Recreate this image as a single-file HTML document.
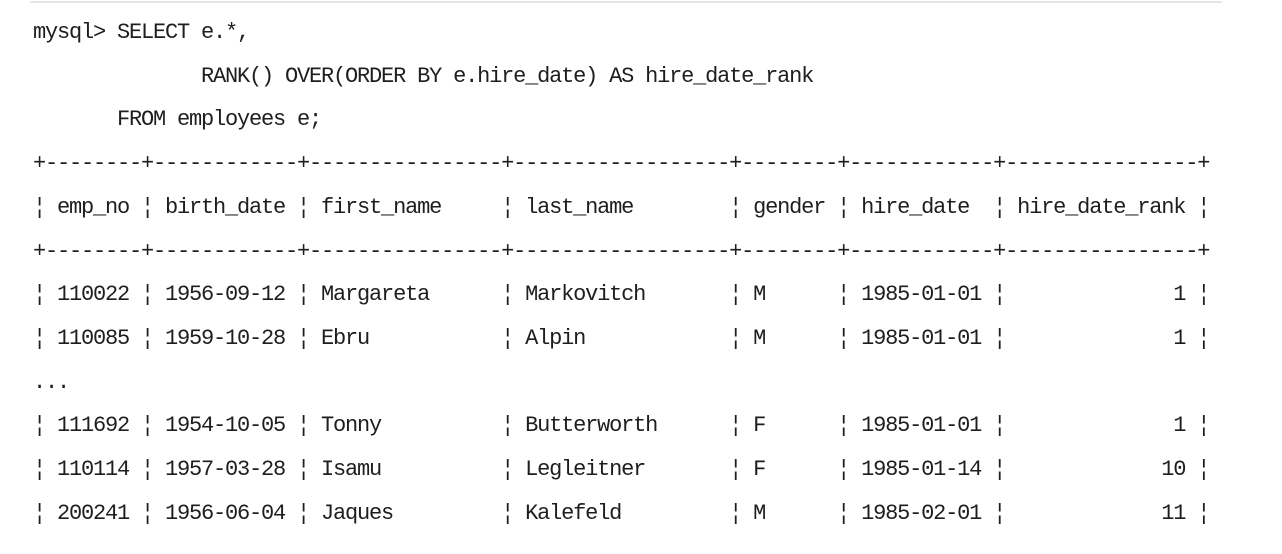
<!DOCTYPE html>
<html><head><meta charset="utf-8"><style>
html,body{margin:0;padding:0;background:#fff;width:1282px;height:554px;overflow:hidden;position:relative}
.top{position:absolute;left:30px;top:1px;width:1192px;height:2px;background:#e6e6e6}
pre{position:absolute;left:33px;top:11px;margin:0;font-family:"Liberation Mono",monospace;font-size:22px;letter-spacing:-1.2px;line-height:43.7px;color:#1e1e1e;white-space:pre}
</style></head><body>
<div class="top"></div>
<pre>mysql&gt; SELECT e.*,
              RANK() OVER(ORDER BY e.hire_date) AS hire_date_rank
       FROM employees e;
+--------+------------+----------------+------------------+--------+------------+----------------+
¦ emp_no ¦ birth_date ¦ first_name     ¦ last_name        ¦ gender ¦ hire_date  ¦ hire_date_rank ¦
+--------+------------+----------------+------------------+--------+------------+----------------+
¦ 110022 ¦ 1956-09-12 ¦ Margareta      ¦ Markovitch       ¦ M      ¦ 1985-01-01 ¦              1 ¦
¦ 110085 ¦ 1959-10-28 ¦ Ebru           ¦ Alpin            ¦ M      ¦ 1985-01-01 ¦              1 ¦
...
¦ 111692 ¦ 1954-10-05 ¦ Tonny          ¦ Butterworth      ¦ F      ¦ 1985-01-01 ¦              1 ¦
¦ 110114 ¦ 1957-03-28 ¦ Isamu          ¦ Legleitner       ¦ F      ¦ 1985-01-14 ¦             10 ¦
¦ 200241 ¦ 1956-06-04 ¦ Jaques         ¦ Kalefeld         ¦ M      ¦ 1985-02-01 ¦             11 ¦</pre>
</body></html>
